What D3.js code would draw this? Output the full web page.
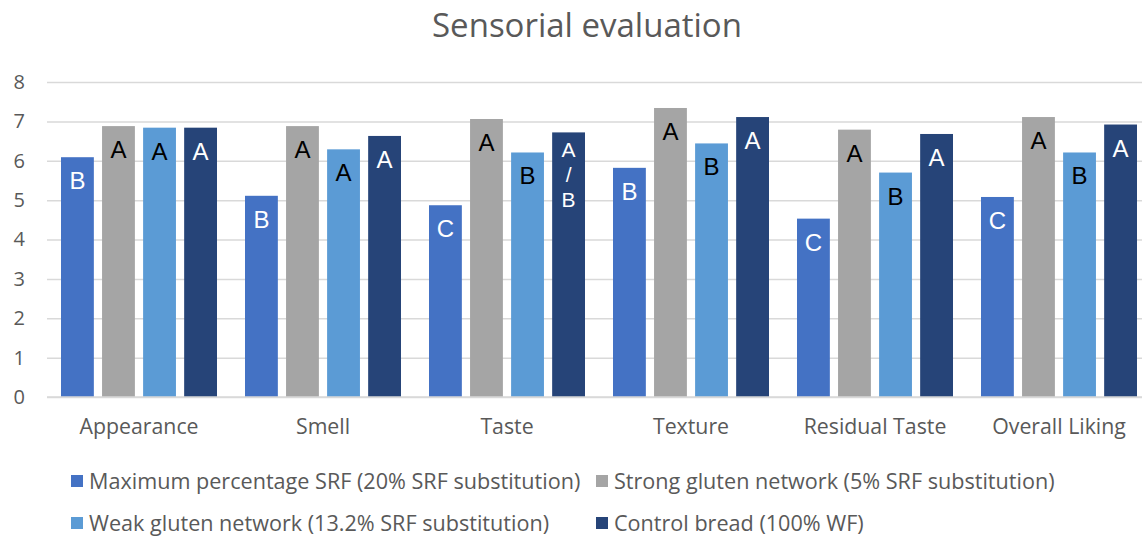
<!DOCTYPE html>
<html>
<head>
<meta charset="utf-8">
<script src="https://cdn.jsdelivr.net/npm/d3@7"></script>
<style>
  body { margin: 0; background: #fff; }
  svg text { font-family: "Open Sans", "Noto Sans", sans-serif; }
</style>
</head>
<body>
<svg id="chart"></svg>
<script>
// data
let categories = ['Appearance', 'Smell', 'Taste', 'Texture', 'Residual Taste', 'Overall Liking'];
let seriesNames = [
  'Maximum percentage SRF (20% SRF substitution)',
  'Strong gluten network (5% SRF substitution)',
  'Weak gluten network (13.2% SRF substitution)',
  'Control bread (100% WF)'
];
let maxSRF  = [6.09, 5.11, 4.87, 5.82, 4.53, 5.08];
let strong  = [6.88, 6.88, 7.06, 7.34, 6.79, 7.11];
let weak    = [6.84, 6.29, 6.21, 6.44, 5.70, 6.21];
let control = [6.84, 6.63, 6.72, 7.11, 6.68, 6.92];

let maxSRFLetters  = ['B', 'B', 'C', 'B', 'C', 'C'];
let strongLetters  = ['A', 'A', 'A', 'A', 'A', 'A'];
let weakLetters    = ['A', 'A', 'B', 'B', 'B', 'B'];
let controlLetters = ['A', 'A', 'A/B', 'A', 'A', 'A'];

let yTicks = [0, 1, 2, 3, 4, 5, 6, 7, 8];

let colors = ['#4472C4', '#A5A5A5', '#5B9BD5', '#264478'];
let letterColors = ['#fff', '#000', '#000', '#fff'];

////////////////////////////// SETUP
let w = 1142;
let h = 540;
let pLeft = 47, pRight = 1151, pTop = 82, pBottom = 397;

let allValues = [maxSRF, strong, weak, control];
let allLetters = [maxSRFLetters, strongLetters, weakLetters, controlLetters];

let rows = [];
categories.forEach((c, i) => {
  allValues.forEach((vals, s) => {
    rows.push({ cat: c, series: s, value: vals[i], letter: allLetters[s][i] });
  });
});

let svg = d3.select('#chart')
  .attr('width', w)
  .attr('height', h);

let xScale = d3.scaleBand()
  .domain(categories)
  .range([pLeft, pRight])
  .paddingInner(0)
  .paddingOuter(0);

let xInner = d3.scaleBand()
  .domain(d3.range(4))
  .range([14, xScale.bandwidth() - 14])
  .paddingInner(0.2)
  .paddingOuter(0);

let yScale = d3.scaleLinear()
  .domain([0, 8])
  .range([pBottom, pTop]);

// title
svg.append('text')
  .attr('x', 587)
  .attr('y', 37)
  .attr('text-anchor', 'middle')
  .attr('font-size', 33)
  .attr('fill', '#595959')
  .text('Sensorial evaluation');

// gridlines
let grid = svg.append('g')
  .attr('transform', `translate(${pLeft}, 0)`)
  .call(d3.axisLeft(yScale).tickValues(yTicks).tickSize(-(pRight - pLeft)).tickFormat(''));
grid.select('.domain').remove();
grid.selectAll('line').attr('stroke', '#D9D9D9').attr('stroke-width', 1.5);

// y labels
let yAxisGroup = svg.append('g')
  .attr('transform', `translate(25, 0)`)
  .call(d3.axisLeft(yScale).tickValues(yTicks).tickSize(0).tickPadding(0).tickFormat(d3.format('d')));
yAxisGroup.select('.domain').remove();
yAxisGroup.selectAll('text')
  .attr('font-size', 20)
  .attr('fill', '#595959')
  .style('font-family', '"Open Sans", sans-serif');

// bars
let groups = svg.append('g')
  .selectAll('g')
  .data(rows)
  .enter()
  .append('g')
  .attr('transform', (d) => `translate(${xScale(d.cat) + xInner(d.series)}, 0)`);

groups.append('rect')
  .attr('x', 0)
  .attr('y', (d) => yScale(d.value))
  .attr('width', xInner.bandwidth())
  .attr('height', (d) => yScale(0) - yScale(d.value))
  .attr('fill', (d) => colors[d.series]);

// letters inside the bars
groups.each(function(d) {
  let g = d3.select(this);
  let parts = d.letter === 'A/B' ? ['A', '/', 'B'] : [d.letter];
  let first = parts.length > 1 ? 25 : 32;
  parts.forEach((p, k) => {
    g.append('text')
      .attr('x', xInner.bandwidth() / 2)
      .attr('y', yScale(d.value) + first + k * 25)
      .attr('text-anchor', 'middle')
      .attr('font-size', parts.length > 1 ? 21 : 24)
      .style('font-family', '"Liberation Sans", Arial, sans-serif')
      .attr('fill', letterColors[d.series])
      .text(p);
  });
});

// zero line
svg.append('line')
  .attr('x1', pLeft).attr('x2', pRight)
  .attr('y1', yScale(0)).attr('y2', yScale(0))
  .attr('stroke', '#D9D9D9')
  .attr('stroke-width', 1.5);

// category labels
let xAxisGroup = svg.append('g')
  .attr('transform', `translate(0, ${pBottom})`)
  .call(d3.axisBottom(xScale).tickSize(0).tickPadding(22));
xAxisGroup.select('.domain').remove();
xAxisGroup.selectAll('text')
  .attr('font-size', 21.3)
  .attr('fill', '#595959')
  .style('font-family', '"Open Sans", sans-serif');

// legend
let legendPos = [[71, 481], [596, 481], [71, 523], [596, 523]];
let legend = svg.append('g')
  .selectAll('g')
  .data(seriesNames)
  .enter()
  .append('g')
  .attr('transform', (d, i) => `translate(${legendPos[i][0]}, ${legendPos[i][1]})`);

legend.append('rect')
  .attr('x', 0)
  .attr('y', -6)
  .attr('width', 12)
  .attr('height', 12)
  .attr('fill', (d, i) => colors[i]);

legend.append('text')
  .attr('x', 18)
  .attr('y', 7.5)
  .attr('font-size', 21.6)
  .attr('fill', '#595959')
  .text((d) => d);
</script>
</body>
</html>
